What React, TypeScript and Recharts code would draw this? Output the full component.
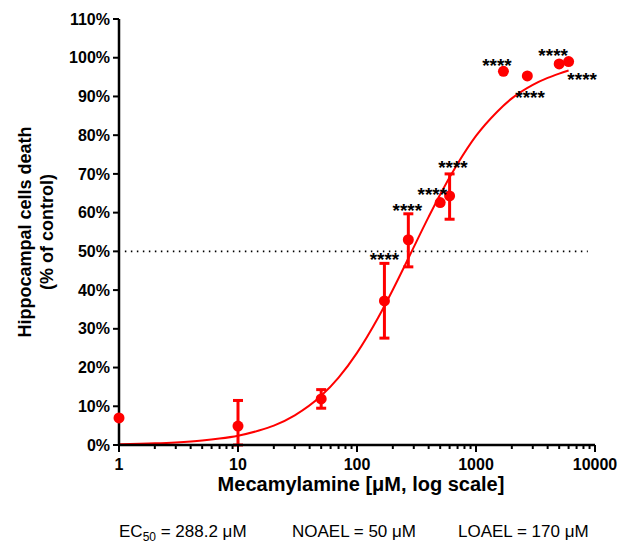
import React from 'react';
import { ComposedChart, XAxis, YAxis, Line, Scatter, ErrorBar, ReferenceLine } from 'recharts';

// Measured points
const concentrations = [1, 10, 50, 170, 270, 500, 600, 1700, 2700, 5000, 6000];
const deathMean = [7.0, 4.9, 11.9, 37.2, 53.0, 62.6, 64.3, 96.5, 95.3, 98.4, 99.0];
const errLow: (number | null)[] = [null, 4.9, 2.4, 9.6, 7.0, null, 6.0, null, null, null, null];
const errHigh: (number | null)[] = [null, 6.6, 2.4, 9.7, 6.7, null, 5.7, null, null, null, null];

// Fitted curve
const fitConc = [1, 2, 3, 5, 7, 10, 15, 20, 30, 50, 70, 100, 150, 200, 250, 300, 400, 500, 700, 1000, 1500, 2000, 3000, 4000, 5000, 6000];
const fitDeath = [0.2, 0.42, 0.66, 1.14, 1.65, 2.4, 3.73, 5.0, 7.66, 12.7, 17.4, 23.8, 32.8, 40.1, 46.1, 51.1, 58.9, 64.7, 72.6, 79.8, 86.0, 89.5, 93.0, 94.8, 95.9, 96.7];

// Significance markers
const starConc = [170, 265, 430, 640, 1500, 2850, 4450, 7800];
const starLevel = [49.1, 61.7, 65.8, 72.8, 99.1, 90.9, 101.7, 95.5];
const starText = '****';

// Axes
const yTicks = [0, 10, 20, 30, 40, 50, 60, 70, 80, 90, 100, 110];
const xMajor = [1, 10, 100, 1000, 10000];
const xMinorMultipliers = [2, 3, 4, 5, 6, 7, 8, 9];
const xTickLabels = ['1', '10', '100', '1000', '10000'];

const xTicks: number[] = [];
xMajor.forEach((d, i) => {
  xTicks.push(d);
  if (i < xMajor.length - 1) xMinorMultipliers.forEach((m) => xTicks.push(d * m));
});

const pointRows = concentrations.map((c, i) => ({
  x: c,
  y: deathMean[i],
  err: errLow[i] == null ? null : [errLow[i], errHigh[i]],
}));
const fitRows = fitConc.map((c, i) => ({ x: c, y: fitDeath[i] }));
const starRows = starConc.map((c, i) => ({ x: c, y: starLevel[i], label: starText }));

const FONT = '"Liberation Sans", Arial, Helvetica, sans-serif';
const RED = '#ff0000';

const XTick = (props: any) => {
  const { x, y, payload } = props;
  const idx = xMajor.indexOf(payload.value);
  const major = idx >= 0;
  return (
    <g>
      <line x1={x} x2={x} y1={y} y2={y + (major ? 7 : 4)} stroke="#000" strokeWidth={2} />
      {major && (
        <text x={x} y={y + 25} textAnchor="middle" fontFamily={FONT} fontWeight="bold" fontSize={16} fill="#000">
          {xTickLabels[idx]}
        </text>
      )}
    </g>
  );
};

const Dot = (props: any) => <circle cx={props.cx} cy={props.cy} r={5.5} fill={RED} />;

const Stars = (props: any) => (
  <text x={props.cx} y={props.cy + 11} textAnchor="middle" fontFamily={FONT} fontWeight="bold" fontSize={19} fill="#000">
    {props.payload.label}
  </text>
);

export default function App() {
  return (
    <div style={{ position: 'relative', width: 620, height: 543, background: '#fff' }}>
      <style>{'body{margin:0}'}</style>
      <ComposedChart width={620} height={543} margin={{ top: 19, right: 25, bottom: 68, left: 59 }}>
        <XAxis
          dataKey="x"
          type="number"
          scale="log"
          domain={[1, 10000]}
          ticks={xTicks}
          interval={0}
          height={30}
          tickSize={0}
          tickMargin={0}
          tickLine={false}
          tick={<XTick />}
          axisLine={{ stroke: '#000', strokeWidth: 2.5 }}
        />
        <YAxis
          type="number"
          domain={[0, 110]}
          ticks={yTicks}
          width={60}
          interval={0}
          tickSize={6}
          tickMargin={3}
          tickFormatter={(v: number) => `${v}%`}
          tick={{ fill: '#000', fontSize: 16, fontWeight: 'bold', fontFamily: FONT }}
          tickLine={{ stroke: '#000', strokeWidth: 2 }}
          axisLine={{ stroke: '#000', strokeWidth: 2.5 }}
        />
        <ReferenceLine
          segment={[{ x: 1.12, y: 50 }, { x: 8700, y: 50 }]}
          stroke="#000"
          strokeWidth={1.8}
          strokeDasharray="1.5 4.5"
        />
        <Line
          data={fitRows}
          dataKey="y"
          type="monotone"
          stroke={RED}
          strokeWidth={2}
          dot={false}
          activeDot={false}
          isAnimationActive={false}
        />
        <Scatter data={pointRows} dataKey="y" shape={<Dot />} isAnimationActive={false}>
          <ErrorBar dataKey="err" direction="y" stroke={RED} strokeWidth={3} width={5} isAnimationActive={false} />
        </Scatter>
        <Scatter data={starRows} dataKey="y" shape={<Stars />} isAnimationActive={false} />
      </ComposedChart>
      <svg width={620} height={543} style={{ position: 'absolute', left: 0, top: 0, pointerEvents: 'none' }}>
        <g fontFamily={FONT} fill="#000">
          <text transform="translate(31,232) rotate(-90)" textAnchor="middle" fontSize={18} fontWeight="bold">
            Hippocampal cells death
          </text>
          <text transform="translate(53,232) rotate(-90)" textAnchor="middle" fontSize={18} fontWeight="bold">
            (% of control)
          </text>
          <text x={361} y={491} textAnchor="middle" fontSize={20} fontWeight="bold">
            Mecamylamine [μM, log scale]
          </text>
          <text x={119} y={537} fontSize={17}>
            EC<tspan fontSize={12} dy={4}>50</tspan>
            <tspan dy={-4}> = 288.2 μM</tspan>
          </text>
          <text x={292} y={537} fontSize={17}>NOAEL = 50 μM</text>
          <text x={458} y={537} fontSize={17}>LOAEL = 170 μM</text>
        </g>
      </svg>
    </div>
  );
}
